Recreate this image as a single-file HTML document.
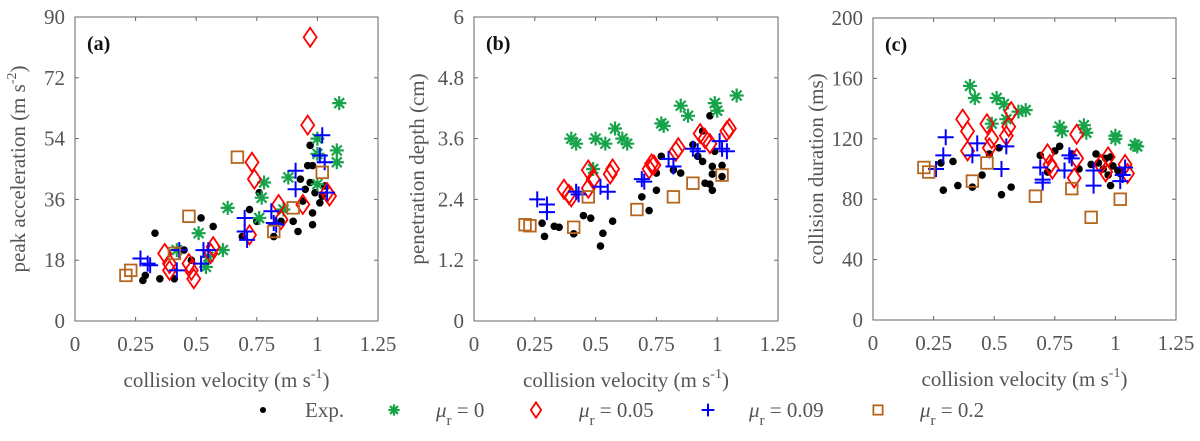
<!DOCTYPE html>
<html><head><meta charset="utf-8">
<style>
html,body{margin:0;padding:0;background:#fff;}
svg, svg text, svg tspan{font-family:"Liberation Serif","Times New Roman","Times","Noto Serif CJK SC","DejaVu Serif",serif !important;}
</style></head>
<body>
<svg id="fig" width="1200" height="436" viewBox="0 0 1200 436" xmlns="http://www.w3.org/2000/svg"></svg>
<script>
// ---------- data ----------
const expV_a = [0.28,0.29,0.33,0.35,0.41,0.45,0.48,0.52,0.57,0.69,0.72,0.75,0.76,0.82,0.85,0.90,0.92,0.93,0.94,0.95,0.96,0.97,0.97,0.98,0.98,0.98,0.99,1.01,1.02,1.03];
const expY_a = [12,13.5,26,12.5,12.5,21,18,30.5,28,25,33,29.5,38,25,29.5,29.5,26.5,42,35.5,39,46,52,41,32,28.5,46,38,35,37,40];
const expV_b = [0.28,0.29,0.33,0.35,0.41,0.45,0.48,0.52,0.53,0.57,0.69,0.72,0.75,0.75,0.77,0.82,0.85,0.90,0.92,0.94,0.94,0.95,0.97,0.97,0.98,0.98,0.98,0.99,1.02,1.02];
const expY_b = [1.93,1.67,1.87,1.85,1.72,2.08,2.03,1.48,1.73,1.97,2.45,2.18,2.92,2.58,3.25,2.98,2.92,3.48,3.25,3.15,3.75,2.72,4.05,2.7,2.58,3.05,2.9,3.35,3.07,2.85];
const expV_c = [0.28,0.29,0.33,0.35,0.41,0.45,0.48,0.52,0.53,0.57,0.69,0.72,0.75,0.77,0.82,0.85,0.90,0.92,0.93,0.95,0.96,0.97,0.98,0.98,0.99,1.01,1.02];
const expY_c = [104,86,105,89,88,96,110,114,83,88,109,98,112,115,110,100,103,110,104,100,107,96,108,89,102,99,97];

const m0V_a = [0.42,0.51,0.54,0.55,0.61,0.63,0.76,0.77,0.78,0.86,0.88,1.0,1.0,1.0,1.08,1.08,1.09];
const m0Y_a = [21,26,16,19,21,33.5,30.5,36.5,41,33,42.5,40.5,49.5,54,47,50.5,64.5];
const m0V_b = [0.40,0.42,0.49,0.50,0.54,0.58,0.61,0.63,0.77,0.78,0.85,0.88,0.99,1.0,1.08];
const m0Y_b = [3.6,3.5,3.0,3.6,3.5,3.8,3.6,3.5,3.9,3.85,4.25,4.05,4.3,4.15,4.45];
const m0V_c = [0.40,0.42,0.49,0.51,0.54,0.55,0.60,0.63,0.77,0.78,0.87,0.88,1.0,1.0,1.08,1.09];
const m0Y_c = [155,147,130,147,143,133,138,139,128,125,129,124,122,120,116,115];

const m05V_a = [0.37,0.39,0.39,0.47,0.48,0.49,0.56,0.57,0.72,0.73,0.74,0.84,0.85,0.94,0.96,0.97,1.04,1.05];
const m05Y_a = [20,17,15,17,15,12.5,20,22,25.5,47,42,34.5,30,34.5,58,84,38,37];
const m05V_b = [0.37,0.39,0.40,0.47,0.47,0.49,0.56,0.57,0.72,0.73,0.74,0.83,0.84,0.93,0.95,0.97,1.04,1.05];
const m05Y_b = [2.6,2.5,2.45,2.98,2.62,2.8,2.9,3.0,3.0,3.1,3.08,3.35,3.42,3.7,3.6,3.5,3.75,3.8];
const m05V_c = [0.37,0.39,0.39,0.47,0.48,0.49,0.55,0.56,0.57,0.72,0.73,0.74,0.83,0.84,0.84,0.94,0.96,0.97,1.04,1.05];
const m05Y_c = [133,125,112,130,114,120,122,128,138,110,103,100,94,107,123,103,98,108,103,97];

const m09V_a = [0.27,0.30,0.31,0.42,0.43,0.52,0.53,0.55,0.70,0.70,0.71,0.81,0.82,0.83,0.91,0.91,1.01,1.02,1.03,1.04];
const m09Y_a = [18.5,17,16.5,15,21,17,21,21,30.5,26.5,24,32.5,29,28.5,44.5,39,49,55,47,38];
const m09V_b = [0.26,0.30,0.30,0.42,0.43,0.52,0.55,0.69,0.70,0.80,0.82,0.90,0.92,1.01,1.02,1.04];
const m09Y_b = [2.4,2.3,2.15,2.55,2.5,2.65,2.55,2.8,2.75,3.2,3.05,3.4,3.35,3.55,3.4,3.35];
const m09V_c = [0.26,0.29,0.30,0.41,0.43,0.53,0.55,0.69,0.70,0.70,0.79,0.81,0.82,0.91,0.91,1.02,1.03,1.04];
const m09Y_c = [100,109,121,109,117,100,115,101,93,91,99,109,107,99,89,92,96,101];

const m2V = [0.21,0.23,0.41,0.47,0.67,0.82,0.90,1.02];
const m2Y_a = [13.5,15,20,31,48.5,26.5,33.5,44];
const m2Y_b = [1.9,1.88,1.85,2.45,2.2,2.45,2.72,2.88];
const m2Y_c = [101,98,92,104,82,87,68,80];

const xTicks = [0,0.25,0.5,0.75,1,1.25];
const xTickLabels = ["0","0.25","0.5","0.75","1","1.25"];
const yTicksA = [0,18,36,54,72,90];
const yTicksB = [0,1.2,2.4,3.6,4.8,6];
const yTickLabelsB = ["0","1.2","2.4","3.6","4.8","6"];
const yTicksC = [0,40,80,120,160,200];

// ---------- drawing ----------
const NS = "http://www.w3.org/2000/svg";
const FONT = "'Liberation Serif', 'Times New Roman', 'Noto Serif CJK SC', serif";
const svg = document.getElementById("fig");
function mk(tag, attrs, parent){
  const e = document.createElementNS(NS, tag);
  for (const k in attrs) e.setAttribute(k, attrs[k]);
  if (tag === "text") e.style.fontFamily = FONT;
  (parent||svg).appendChild(e);
  return e;
}
const GREY = "#555";
const COL = {exp:"#000", m0:"#16a34a", m05:"#ff0000", m09:"#0000ff", m2:"#b5651d"};

function marker(type, x, y, g, s){
  s = s || 1;
  let e;
  if (type === "exp"){
    e = mk("circle",{cx:x,cy:y,r:3.8*s,fill:COL.exp},g);
  } else if (type === "m0"){
    const r = 7*s; let d = "";
    for (let i=0;i<4;i++){ const a = i*Math.PI/4; d += `M${x-r*Math.cos(a)},${y-r*Math.sin(a)}L${x+r*Math.cos(a)},${y+r*Math.sin(a)}`; }
    e = mk("path",{d:d,stroke:COL.m0,"stroke-width":2.2,fill:"none"},g);
  } else if (type === "m05"){
    const w=6.5*s,h=9.5*s;
    e = mk("path",{d:`M${x},${y-h}L${x+w},${y}L${x},${y+h}L${x-w},${y}Z`,stroke:COL.m05,"stroke-width":1.8,fill:"none"},g);
  } else if (type === "m09"){
    const r=8*s;
    e = mk("path",{d:`M${x-r},${y}L${x+r},${y}M${x},${y-r}L${x},${y+r}`,stroke:COL.m09,"stroke-width":2,fill:"none"},g);
  } else {
    const r=5.8*s;
    e = mk("rect",{x:x-r,y:y-r,width:2*r,height:2*r,stroke:COL.m2,"stroke-width":1.8,fill:"none"},g);
  }
  return e;
}

function panel(opt){
  const {L,R,T,B,ymax,yTicks,yLabels,label,ylabel,series,name} = opt;
  const g = mk("g",{});
  
  
  const sx = v => L + v/1.25*(R-L);
  const sy = v => B - v/ymax*(B-T);
  const frame = mk("rect",{x:L,y:T,width:R-L,height:B-T,fill:"none",stroke:"#666","stroke-width":1},g);
  
  
  xTicks.forEach((t,i)=>{
    const x = sx(t);
    mk("line",{x1:x,y1:B,x2:x,y2:B-4,stroke:"#666"},g);
    mk("line",{x1:x,y1:T,x2:x,y2:T+4,stroke:"#666"},g);
    const tx = mk("text",{x:x,y:B+30,"text-anchor":"middle","font-size":21,fill:GREY},g);
    tx.textContent = xTickLabels[i];
    
    
  });
  yTicks.forEach((t,i)=>{
    const y = sy(t);
    mk("line",{x1:L,y1:y,x2:L+4,y2:y,stroke:"#666"},g);
    mk("line",{x1:R,y1:y,x2:R-4,y2:y,stroke:"#666"},g);
    const ty = mk("text",{x:L-10,y:y+7,"text-anchor":"end","font-size":21,fill:GREY},g);
    ty.textContent = yLabels ? yLabels[i] : String(t);
    
    
  });
  const pl = mk("text",{x:L+12,y:T+33,"font-size":20,"font-weight":"bold",fill:"#111"},g);
  pl.textContent = label;
  
  
  const xl = mk("text",{x:(L+R)/2,y:B+66,"text-anchor":"middle","font-size":21,fill:GREY},g);
  xl.innerHTML = 'collision velocity (m s<tspan dy="-9" font-size="14">-1</tspan><tspan dy="9">)</tspan>';
  
  
  const yl = mk("text",{x:0,y:0,"text-anchor":"middle","font-size":21,fill:GREY,transform:`translate(${L-50},${(T+B)/2}) rotate(-90)`},g);
  yl.innerHTML = ylabel;
  
  
  series.forEach(s=>{
    const sg = mk("g",{},g);
    
    
    s.v.forEach((v,i)=>{
      const m = marker(s.type, sx(v), sy(s.y[i]), sg);
      
      
    });
  });
}

panel({name:"panel-a",L:75,R:378,T:17,B:321,ymax:90,yTicks:yTicksA,label:"(a)",
  ylabel:'peak acceleration (m s<tspan dy="-9" font-size="14">-2</tspan><tspan dy="9">)</tspan>',
  series:[{type:"exp",v:expV_a,y:expY_a},{type:"m0",v:m0V_a,y:m0Y_a},{type:"m05",v:m05V_a,y:m05Y_a},{type:"m09",v:m09V_a,y:m09Y_a},{type:"m2",v:m2V,y:m2Y_a}]});
panel({name:"panel-b",L:474,R:778,T:17,B:321,ymax:6,yTicks:yTicksB,yLabels:yTickLabelsB,label:"(b)",
  ylabel:'penetration depth (cm)',
  series:[{type:"exp",v:expV_b,y:expY_b},{type:"m0",v:m0V_b,y:m0Y_b},{type:"m05",v:m05V_b,y:m05Y_b},{type:"m09",v:m09V_b,y:m09Y_b},{type:"m2",v:m2V,y:m2Y_b}]});
panel({name:"panel-c",L:873,R:1176,T:18,B:320,ymax:200,yTicks:yTicksC,label:"(c)",
  ylabel:'collision duration (ms)',
  series:[{type:"exp",v:expV_c,y:expY_c},{type:"m0",v:m0V_c,y:m0Y_c},{type:"m05",v:m05V_c,y:m05Y_c},{type:"m09",v:m09V_c,y:m09Y_c},{type:"m2",v:m2V,y:m2Y_c}]});

// legend
const legend = mk("g",{});


const legTypes = ["exp","m0","m05","m09","m2"];
const legLabels = ["Exp.","0","0.05","0.09","0.2"];
const legMx = [263,394,536,708,878];
const legTx = [305,436,579,749,920];
legTypes.forEach((t,i)=>{
  const e = mk("g",{},legend);
  
  
  marker(t, legMx[i], 410, e, 0.8);
  const tx = mk("text",{x:legTx[i],y:417,"font-size":21,fill:GREY},e);
  if (t==="exp") tx.textContent = "Exp.";
  else tx.innerHTML = '<tspan font-style="italic">μ</tspan><tspan dy="8" font-size="15">r</tspan><tspan dy="-8"> = ' + legLabels[i] + '</tspan>';
});
</script>
</body></html>
